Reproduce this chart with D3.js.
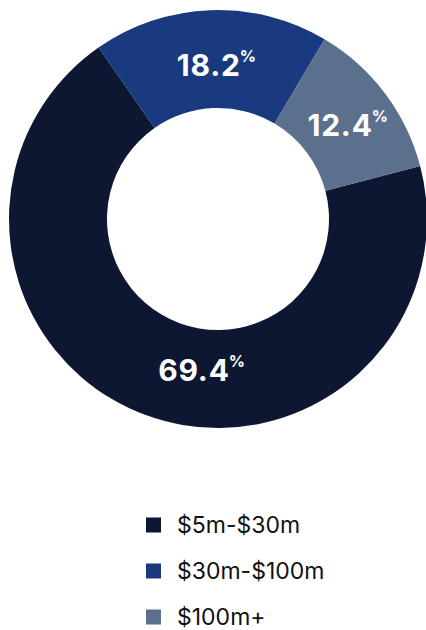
<!DOCTYPE html>
<html>
<head>
<meta charset="utf-8">
<script src="https://cdn.jsdelivr.net/npm/d3@7"></script>
<style>
  html, body { margin: 0; padding: 0; background: #ffffff; }
  svg { display: block; }
  text { font-family: Inter, "Noto Sans", sans-serif; }
</style>
</head>
<body>
<div id="chart"></div>
<script>
// ---- data ----
const categories = ["$5m-$30m", "$30m-$100m", "$100m+"];
const shares = [69.4, 18.2, 12.4];
const colors = ["#0e1731", "#193a7e", "#5b708d"];

// ---- layout ----
const W = 426, H = 630;
const cx = 218, cy = 219;
const outerR = 209, innerR = 111;
const startDeg = 75.3;

const svg = d3.select("#chart").append("svg")
  .attr("width", W).attr("height", H);

const data = categories.map((c, i) => ({ cat: c, value: shares[i], color: colors[i] }));

const pie = d3.pie()
  .sort(null)
  .value(d => d.value)
  .startAngle(startDeg * Math.PI / 180)
  .endAngle(startDeg * Math.PI / 180 + 2 * Math.PI);

const arc = d3.arc().innerRadius(innerR).outerRadius(outerR);

const g = svg.append("g").attr("transform", `translate(${cx},${cy})`);
const arcs = pie(data);

g.selectAll("path.slice")
  .data(arcs)
  .join("path")
  .attr("class", "slice")
  .attr("d", arc)
  .attr("fill", d => d.data.color);

// label placement: radius and angular shift per slice (by index)
const labelR = [152, 154, 160];
const labelShiftDeg = [-14, 1.5, 1.2];
arcs.forEach((a, i) => {
  const mid = (a.startAngle + a.endAngle) / 2 + labelShiftDeg[i] * Math.PI / 180;
  const x = Math.sin(mid) * labelR[i];
  const y = -Math.cos(mid) * labelR[i];
  const t = g.append("text")
    .attr("x", x)
    .attr("y", y)
    .attr("text-anchor", "middle")
    .attr("dominant-baseline", "central")
    .attr("fill", "#ffffff")
    .attr("font-weight", 700)
    .attr("font-size", 30)
    .attr("letter-spacing", 0.8);
  t.append("tspan").text(d3.format(".1f")(a.data.value));
  t.append("tspan")
    .attr("font-size", 16)
    .attr("dy", -9)
    .attr("dx", -1)
    .attr("letter-spacing", 0)
    .text("%");
});

// ---- legend ----
const legendX = 146, legendY0 = 525, legendStep = 46, sq = 15;
const legend = svg.append("g");
const items = legend.selectAll("g.item")
  .data(data)
  .join("g")
  .attr("class", "item")
  .attr("transform", (d, i) => `translate(${legendX},${legendY0 + i * legendStep})`);

items.append("rect")
  .attr("x", 0)
  .attr("y", -sq / 2)
  .attr("width", sq)
  .attr("height", sq)
  .attr("fill", d => d.color);

items.append("text")
  .attr("x", 31)
  .attr("y", 0)
  .attr("dominant-baseline", "central")
  .attr("font-size", 23)
  .attr("fill", "#111111")
  .text(d => d.cat);
</script>
</body>
</html>
